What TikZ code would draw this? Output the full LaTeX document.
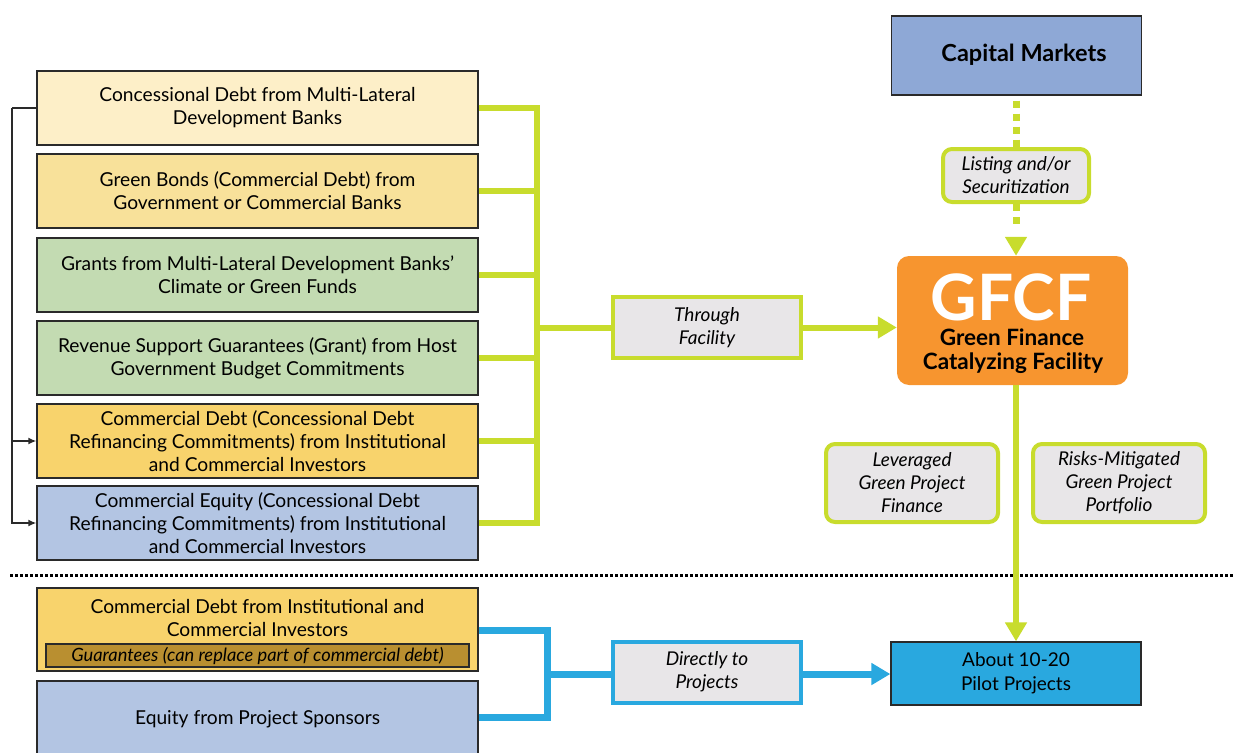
\documentclass[tikz,border=0pt]{standalone}
\usepackage{fontspec}
\setmainfont{Lato}
\usetikzlibrary{arrows.meta}

\definecolor{creamA}{HTML}{FDEFC8}
\definecolor{sandA}{HTML}{F8E19A}
\definecolor{sageA}{HTML}{C3DBB2}
\definecolor{goldA}{HTML}{F8D36C}
\definecolor{steelA}{HTML}{B3C5E3}
\definecolor{ochreA}{HTML}{B98F30}
\definecolor{limeA}{HTML}{C8DC2D}
\definecolor{paleA}{HTML}{E8E6E8}
\definecolor{orangeA}{HTML}{F7952F}
\definecolor{periA}{HTML}{8EA8D6}
\definecolor{skyA}{HTML}{29A8DF}
\definecolor{edgeA}{HTML}{2A2A2A}

\newcommand\srcsize{\fontsize{19.2}{23}\selectfont}
\newcommand\tagsize{\fontsize{19}{23}\selectfont\itshape}

\begin{document}
\begin{tikzpicture}[x=1pt,y=-1pt,
  srcbox/.style={draw=edgeA, line width=1.3pt, minimum width=441pt,
    minimum height=74pt, inner sep=0pt, align=center, font=\srcsize},
  tagbox/.style={fill=paleA, line width=4pt, inner sep=0pt, align=center,
    font=\tagsize},
  greentag/.style={tagbox, draw=limeA, rounded corners=9pt},
  greenline/.style={draw=limeA, line width=6pt},
  blueline/.style={draw=skyA, line width=7pt},
  greentip/.style={-{Triangle[length=19pt,width=21pt]}},
  smalltip/.style={-{Latex[length=8pt,width=7pt]}}
]
\useasboundingbox (0,0) rectangle (1233,752);

% funding sources routed through the facility
\node[srcbox, fill=creamA] (b1) at (257.5,108)
  {Concessional Debt from Multi-Lateral\\Development Banks};
\node[srcbox, fill=sandA] (b2) at (257.5,191)
  {Green Bonds (Commercial Debt) from\\Government or Commercial Banks};
\node[srcbox, fill=sageA] (b3) at (257.5,275)
  {Grants from Multi-Lateral Development Banks'\\Climate or Green Funds};
\node[srcbox, fill=sageA] (b4) at (257.5,358)
  {Revenue Support Guarantees (Grant) from Host\\Government Budget Commitments};
\node[srcbox, fill=goldA] (b5) at (257.5,441)
  {Commercial Debt (Concessional Debt\\Refinancing Commitments) from Institutional\\and Commercial Investors};
\node[srcbox, fill=steelA] (b6) at (257.5,523)
  {Commercial Equity (Concessional Debt\\Refinancing Commitments) from Institutional\\and Commercial Investors};

% funding sources going directly to projects
\node[srcbox, fill=goldA, minimum height=83pt] (c1) at (257.5,629.5) {};
\node[font=\srcsize, align=center, inner sep=0pt] (c1text) at (257.5,618)
  {Commercial Debt from Institutional and\\Commercial Investors};
\node[draw=edgeA, line width=1.3pt, fill=ochreA, minimum width=423pt,
  minimum height=23pt, inner sep=0pt, font=\fontsize{18.3}{22}\selectfont\itshape]
  (guar) at (257.5,655.5)
  {Guarantees (can replace part of commercial debt)};
\node[srcbox, fill=steelA, minimum height=80pt] (c2) at (257.5,721) {};
\node[font=\srcsize, inner sep=0pt] (c2text) at (257.5,719)
  {Equity from Project Sponsors};

% refinancing links
\coordinate (loop) at (12,108);
\draw[edgeA, line width=1.5pt] (b1.west) -- (loop);
\draw[edgeA, line width=1.5pt, smalltip] (loop) |- (b5.west);
\draw[edgeA, line width=1.5pt, smalltip] (loop) |- (b6.west);

% channel labels
\node[tagbox, draw=limeA, minimum width=188pt, minimum height=61pt]
  (through) at (707,327.5) {Through\\Facility};
\node[tagbox, draw=skyA, minimum width=188pt, minimum height=61pt]
  (direct) at (707,672) {Directly to\\Projects};

% facility and capital markets
\node[draw=edgeA, line width=1.3pt, fill=periA, minimum width=250pt,
  minimum height=79pt] (cap) at (1016.5,55.5) {};
\node[font=\fontsize{23.5}{28}\selectfont\bfseries, inner sep=0pt]
  (captext) at (1024,55) {Capital Markets};
\node[greentag, minimum width=146pt, minimum height=53pt]
  (listing) at (1016,175.5) {Listing and/or\\Securitization};
\node[fill=orangeA, rounded corners=12pt, minimum width=231pt,
  minimum height=129pt, inner sep=0pt] (gfcf) at (1012.5,320.5) {};
\node[text=white, font=\fontsize{64}{64}\selectfont\bfseries, inner sep=0pt,
  anchor=base] (gfcfname) at (1011,320) {GFCF};
\node[font=\fontsize{22.5}{24}\selectfont\bfseries, inner sep=0pt,
  anchor=base] (gfcfsub1) at (1012,345) {Green Finance};
\node[font=\fontsize{22.5}{24}\selectfont\bfseries, inner sep=0pt,
  anchor=base] (gfcfsub2) at (1013,369) {Catalyzing Facility};

\node[greentag, minimum width=172pt, minimum height=78pt]
  (lever) at (912,483) {Leveraged\\Green Project\\Finance};
\node[greentag, minimum width=172pt, minimum height=78pt]
  (risk) at (1119,483) {Risks-Mitigated\\Green Project\\Portfolio};

\node[draw=edgeA, line width=1.3pt, fill=skyA, minimum width=250pt,
  minimum height=63pt, align=center, inner sep=0pt,
  font=\fontsize{19}{24}\selectfont]
  (pilot) at (1016,673.5) {About 10-20\\Pilot Projects};

% separator between the two routes
\draw[black, line width=3pt, dash pattern=on 3pt off 2pt] (10,575) -- (1233,575);

% green bus from the sources to the facility
\coordinate (bus) at (537,327.5);
\foreach \b in {b1,b2,b3,b4,b5,b6}
  \draw[greenline, line join=miter] (\b.east) -| (bus);
\draw[greenline] (bus) -- (through.west);
\draw[greenline, greentip] (through.east) -- (through.east -| gfcf.west);

% capital markets link
\draw[greenline, line width=7pt, dash pattern=on 7pt off 6pt]
  (cap.south -| listing.north) ++(0,5) -- (listing.north);
\draw[greenline, line width=7pt, dash pattern=on 7pt off 6pt]
  (listing.south) -- ++(0,22);
\draw[greenline, line width=7pt, greentip] (listing.south) ++(0,34) -- (listing.south |- gfcf.north);

% facility down to pilots
\draw[greenline, greentip] (gfcf.south -| pilot.north) -- (pilot.north);

% blue direct route
\coordinate (join) at (547,674);
\draw[blueline, line join=miter] (c1.east |- 0,630) -| (join);
\draw[blueline, line join=miter] (c2.east |- 0,717) -| (join);
\draw[blueline] (join) -- (join -| direct.west);
\draw[blueline, greentip] (join -| direct.east) -- (join -| pilot.west);

\end{tikzpicture}
\end{document}
